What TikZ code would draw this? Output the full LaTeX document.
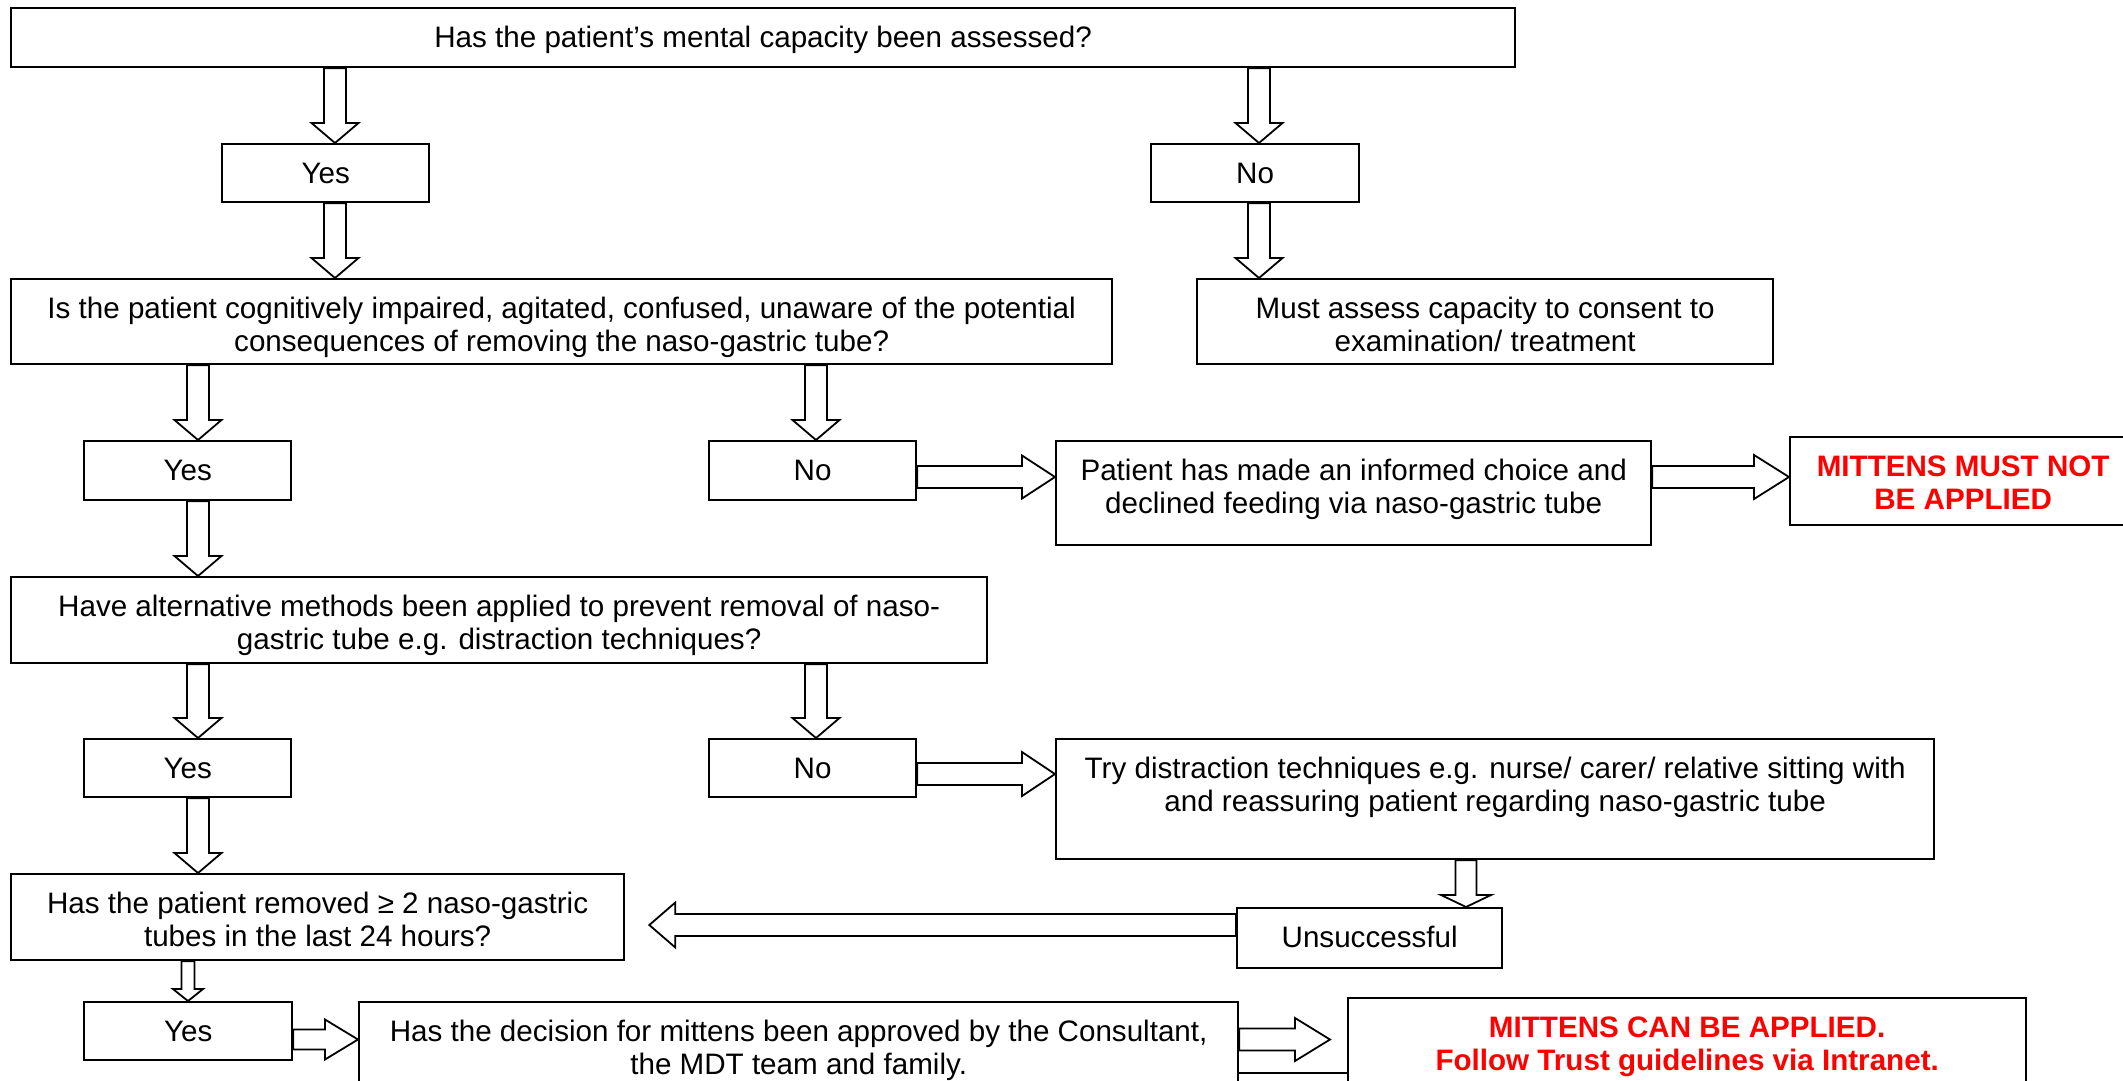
\documentclass[tikz,border=0pt]{standalone}
\usepackage{fontspec}
\setmainfont{Liberation Sans}
\usetikzlibrary{calc}

\newcommand{\flowtext}[3]{\parbox[t][#2pt][t]{#1pt}{\centering\rule{0pt}{39pt}#3}}

\begin{document}
\begin{tikzpicture}[
  x=1pt, y=-1pt,
  font=\fontsize{29.6}{33.8}\selectfont,
  box/.style={draw, line width=2.3pt, inner sep=0pt, anchor=north west},
  warn/.style={text=red, font=\fontsize{29.6}{33.8}\selectfont\bfseries},
  arr/.style n args={3}{draw, line width=1.8pt, to path={
    ($(\tikztostart)!#1pt!90:(\tikztotarget)$)
    -- ($(\tikztotarget)!#3pt!(\tikztostart)!#1pt!-90:(\tikztostart)$)
    -- ($(\tikztotarget)!#3pt!(\tikztostart)!#2pt!-90:(\tikztostart)$)
    -- (\tikztotarget)
    -- ($(\tikztotarget)!#3pt!(\tikztostart)!#2pt!90:(\tikztostart)$)
    -- ($(\tikztotarget)!#3pt!(\tikztostart)!#1pt!90:(\tikztostart)$)
    -- ($(\tikztostart)!#1pt!-90:(\tikztotarget)$) -- cycle}}
]
\useasboundingbox (0,0) rectangle (2123,1080);
\clip (0,0) rectangle (2123,1080);
\fill[white] (0,0) rectangle (2123,1080);

\node[box] (top) at (10,7) {\flowtext{1504}{59}{Has the patient’s mental capacity been assessed?}};
\node[box] (yes1) at (221,143) {\flowtext{207}{58}{Yes}};
\node[box] (no1) at (1150,143) {\flowtext{208}{58}{No}};
\node[box] (q2) at (10,278) {\flowtext{1101}{85}{Is the patient cognitively impaired, agitated, confused, unaware of the potential\\consequences of removing the naso-gastric tube?}};
\node[box] (must) at (1196,278) {\flowtext{576}{85}{Must assess capacity to consent to\\examination/ treatment}};
\node[box] (yes2) at (83,440) {\flowtext{207}{59}{Yes}};
\node[box] (no2) at (708,440) {\flowtext{207}{59}{No}};
\node[box] (pat) at (1055,440) {\flowtext{595}{104}{Patient has made an informed choice and\\declined feeding via naso-gastric tube}};
\node[box, warn] (mmn) at (1789,436) {\flowtext{346}{88}{MITTENS MUST NOT\\BE APPLIED}};
\node[box] (q3) at (10,576) {\flowtext{976}{86}{Have alternative methods been applied to prevent removal of naso-\\gastric tube e.g. distraction techniques?}};
\node[box] (yes3) at (83,738) {\flowtext{207}{58}{Yes}};
\node[box] (no3) at (708,738) {\flowtext{207}{58}{No}};
\node[box] (try) at (1055,738) {\flowtext{878}{120}{Try distraction techniques e.g. nurse/ carer/ relative sitting with\\and reassuring patient regarding naso-gastric tube}};
\node[box] (q4) at (10,873) {\flowtext{613}{86}{Has the patient removed ≥ 2 naso-gastric\\tubes in the last 24 hours?}};
\node[box] (uns) at (1236,907) {\flowtext{265}{60}{Unsuccessful}};
\node[box] (yes4) at (83,1001) {\flowtext{208}{58}{Yes}};
\node[box] (dec) at (358,1001) {\flowtext{879}{150}{Has the decision for mittens been approved by the Consultant,\\the MDT team and family.}};
\node[box, warn] (mcan) at (1347,997) {\flowtext{678}{150}{MITTENS CAN BE APPLIED.\\Follow Trust guidelines via Intranet.}};

\coordinate (cA) at (335,0);
\coordinate (cB) at (1259,0);
\coordinate (cC) at (198,0);
\coordinate (cD) at (816,0);
\coordinate (cE) at (188,0);
\coordinate (cF) at (1466,0);
\coordinate (rA) at (0,477);
\coordinate (rB) at (0,774);
\coordinate (rC) at (0,925);
\coordinate (rD) at (0,1039.5);
\coordinate (rX) at (0,1073);
\coordinate (tipC) at ($(q4.east |- rC)+(24,0)$);
\coordinate (tipD) at ($(mcan.west |- rD)+(-17,0)$);

\draw[arr={11}{23.5}{20}] (top.south -| cA) to (yes1.north -| cA);
\draw[arr={11}{23.5}{20}] (yes1.south -| cA) to (q2.north -| cA);
\draw[arr={11}{23.5}{20}] (top.south -| cB) to (no1.north -| cB);
\draw[arr={11}{23.5}{20}] (no1.south -| cB) to (must.north -| cB);
\draw[arr={11}{23.5}{20}] (q2.south -| cC) to (yes2.north -| cC);
\draw[arr={11}{23.5}{20}] (q2.south -| cD) to (no2.north -| cD);
\draw[arr={11}{23.5}{20}] (yes2.south -| cC) to (q3.north -| cC);
\draw[arr={11}{23.5}{20}] (q3.south -| cC) to (yes3.north -| cC);
\draw[arr={11}{23.5}{20}] (q3.south -| cD) to (no3.north -| cD);
\draw[arr={11}{23.5}{20}] (yes3.south -| cC) to (q4.north -| cC);
\draw[arr={6.5}{15}{12}] (q4.south -| cE) to (yes4.north -| cE);
\draw[arr={10.5}{25}{12}] (try.south -| cF) to (uns.north -| cF);

\draw[arr={11}{21.5}{33}] (no2.east |- rA) to (pat.west |- rA);
\draw[arr={11}{22}{35}] (pat.east |- rA) to (mmn.west |- rA);
\draw[arr={11}{22}{33}] (no3.east |- rB) to (try.west |- rB);
\draw[arr={11}{22.5}{26}] (uns.west |- rC) to (tipC);
\draw[arr={10}{20}{33}] (yes4.east |- rD) to (dec.west |- rD);
\draw[arr={11}{21.5}{35}] (dec.east |- rD) to (tipD);
\draw[line width=1.8pt] (dec.east |- rX) -- (mcan.west |- rX);

\end{tikzpicture}
\end{document}
